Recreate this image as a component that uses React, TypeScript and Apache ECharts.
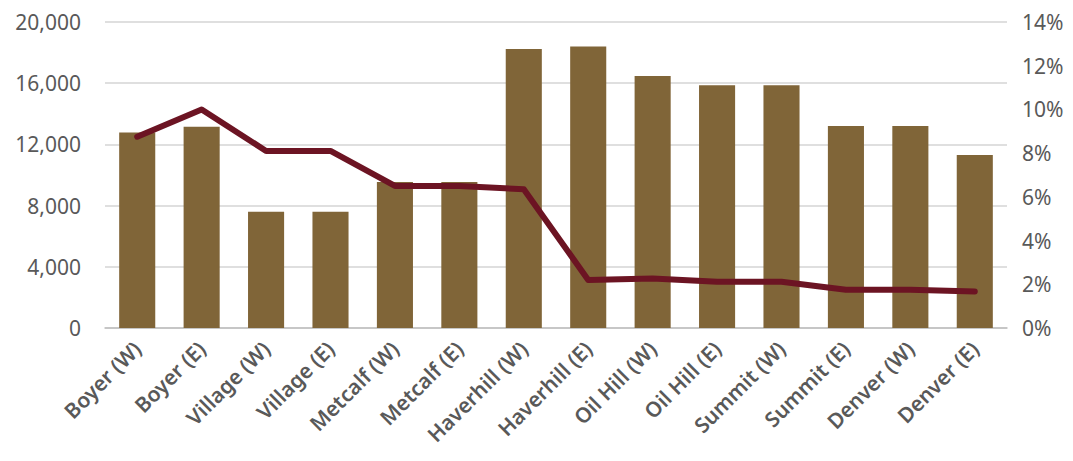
import React, { useEffect, useRef } from "react";
import * as echarts from "echarts";

// Locations, shown along the category axis
const categories = [
  "Boyer (W)", "Boyer (E)", "Village (W)", "Village (E)", "Metcalf (W)", "Metcalf (E)",
  "Haverhill (W)", "Haverhill (E)", "Oil Hill (W)", "Oil Hill (E)", "Summit (W)",
  "Summit (E)", "Denver (W)", "Denver (E)",
];

// Bar values on the left axis
const volumes = [
  12780, 13150, 7600, 7600, 9550, 9550, 18230, 18400, 16470, 15860, 15860, 13200, 13200, 11300,
];

// Line values (percent) on the right axis
const rates = [8.75, 10.0, 8.1, 8.1, 6.5, 6.5, 6.35, 2.2, 2.27, 2.12, 2.12, 1.75, 1.75, 1.67];

const leftMax = 20000;
const leftStep = 4000;
const rightMax = 14;
const rightStep = 2;

const FONT = "'Noto Sans', 'DejaVu Sans', sans-serif";
const TEXT = "#595959";

export default function App() {
  const ref = useRef<HTMLDivElement>(null);

  useEffect(() => {
    document.body.style.margin = "0";
    if (!ref.current) return;
    const chart = echarts.init(ref.current, undefined, { renderer: "svg" });
    chart.setOption({
      animation: false,
      backgroundColor: "#ffffff",
      grid: { left: 105, right: 66, top: 22, bottom: 133, containLabel: false },
      xAxis: {
        type: "category",
        data: categories,
        axisTick: { show: false },
        axisLine: { lineStyle: { color: "#BFBFBF", width: 1.5 } },
        axisLabel: {
          interval: 0,
          rotate: 45,
          margin: 17,
          color: TEXT,
          fontFamily: FONT,
          fontSize: 21,
          fontWeight: 600,
        },
      },
      yAxis: [
        {
          type: "value",
          min: 0,
          max: leftMax,
          interval: leftStep,
          axisLine: { show: false },
          axisTick: { show: false },
          splitLine: { lineStyle: { color: "#D4D4D4", width: 1.5 } },
          axisLabel: {
            margin: 24,
            color: TEXT,
            fontFamily: FONT,
            fontSize: 21,
            formatter: (v: number) => v.toLocaleString("en-US"),
          },
        },
        {
          type: "value",
          min: 0,
          max: rightMax,
          interval: rightStep,
          axisLine: { show: false },
          axisTick: { show: false },
          splitLine: { show: false },
          axisLabel: {
            margin: 15,
            color: TEXT,
            fontFamily: FONT,
            fontSize: 21,
            formatter: (v: number) => `${v}%`,
          },
        },
      ],
      series: [
        {
          type: "bar",
          data: volumes,
          yAxisIndex: 0,
          barCategoryGap: "44%",
          itemStyle: { color: "#806538" },
        },
        {
          type: "line",
          data: rates,
          yAxisIndex: 1,
          symbol: "none",
          z: 5,
          lineStyle: { color: "#6C1423", width: 6, cap: "round", join: "round" },
        },
      ],
    });
    return () => chart.dispose();
  }, []);

  return <div ref={ref} style={{ width: 1073, height: 461 }} />;
}
